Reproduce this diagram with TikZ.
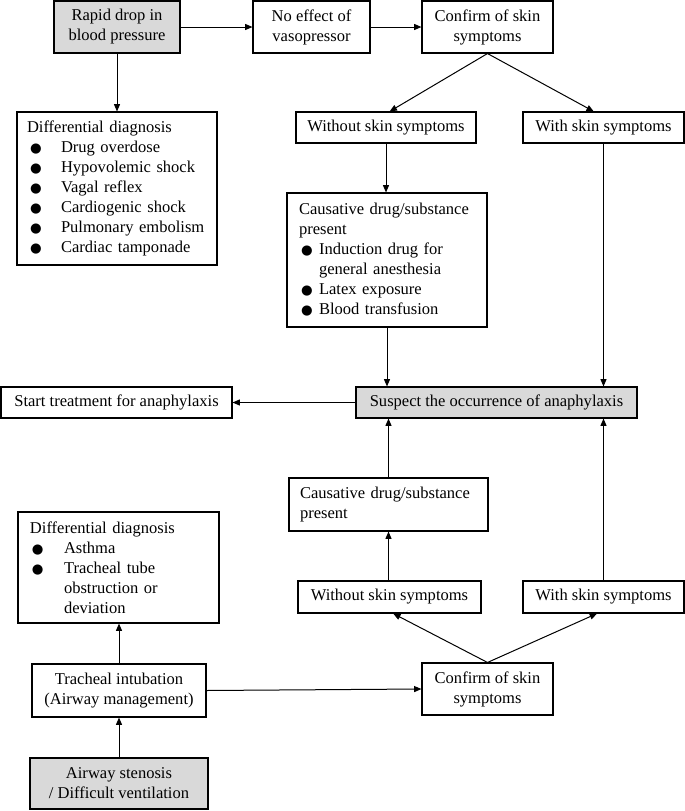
\documentclass[tikz,border=0pt]{standalone}
\usepackage{fontspec}
\setmainfont{Liberation Serif}
\newfontfamily\symfont{DejaVu Sans}
\usetikzlibrary{arrows.meta,calc}
\definecolor{boxgray}{HTML}{D9D9D9}
\newcommand{\bul}{{\symfont\fontsize{10}{15}\selectfont ●}}
\newcommand{\bitem}[3]{\makebox[#1][l]{\hspace{#2}\bul}#3}
\begin{document}
\begin{tikzpicture}[x=0.75pt,y=-0.75pt,
  font=\fontsize{12.4}{15}\selectfont,
  box/.style={draw, line width=0.8pt, inner sep=0pt, align=center},
  greybox/.style={box, fill=boxgray},
  lstbox/.style={box, align=left},
  arr/.style={line width=0.75pt, -{Triangle[length=5.5pt,width=4.5pt]}},
  ln/.style={line width=0.75pt}]
\useasboundingbox (0,0) rectangle (685,811);

% top row
\node[greybox, minimum width=94.5pt, minimum height=39pt] (rapid) at (117,27) {Rapid drop in\\blood pressure};
\node[box, minimum width=87.75pt, minimum height=39pt] (noeff) at (311.5,27) {No effect of\\vasopressor};
\node[box, minimum width=98.25pt, minimum height=39pt] (conf1) at (487.5,27) {Confirm of skin\\symptoms};

\node[lstbox, minimum width=150pt, minimum height=114.75pt, inner xsep=7.5pt, text width=135pt] (diff1) at (117,188.5)
 {Differential diagnosis\\
  \bitem{25.5pt}{2.25pt}{Drug overdose}\\
  \bitem{25.5pt}{2.25pt}{Hypovolemic shock}\\
  \bitem{25.5pt}{2.25pt}{Vagal reflex}\\
  \bitem{25.5pt}{2.25pt}{Cardiogenic shock}\\
  \bitem{25.5pt}{2.25pt}{Pulmonary embolism}\\
  \bitem{25.5pt}{2.25pt}{Cardiac tamponade}};

\node[box, minimum width=135pt, minimum height=23.25pt] (without1) at (386,127.5) {Without skin symptoms};
\node[box, minimum width=120.75pt, minimum height=23.25pt] (with1) at (603.5,127.5) {With skin symptoms};

\node[lstbox, minimum width=150pt, minimum height=100.5pt, inner xsep=9pt, text width=132pt] (caus1) at (387,260)
 {Causative drug/substance\\present\\
  \bitem{15pt}{1.5pt}{Induction drug for}\\
  \hspace*{15pt}general anesthesia\\
  \bitem{15pt}{1.5pt}{Latex exposure}\\
  \bitem{15pt}{1.5pt}{Blood transfusion}};

\node[greybox, minimum width=210.75pt, minimum height=23.25pt] (suspect) at (496.5,402.5) {Suspect the occurrence of anaphylaxis};
\node[box, minimum width=173.25pt, minimum height=23.25pt] (start) at (116.5,402.5) {Start treatment for anaphylaxis};

\node[lstbox, minimum width=149.25pt, minimum height=39.75pt, inner xsep=8.25pt, text width=132.75pt] (caus2) at (388.5,504.5)
 {Causative drug/substance\\present};

\node[lstbox, minimum width=150.75pt, minimum height=83.25pt, inner xsep=9pt, text width=132.75pt] (diff2) at (118.5,567.5)
 {Differential diagnosis\\
  \bitem{25.5pt}{1.5pt}{Asthma}\\
  \bitem{25.5pt}{1.5pt}{Tracheal tube}\\
  \hspace*{25.5pt}obstruction or\\
  \hspace*{25.5pt}deviation};

\node[box, minimum width=137.25pt, minimum height=24pt] (without2) at (389.5,597) {Without skin symptoms};
\node[box, minimum width=120.75pt, minimum height=24pt] (with2) at (603.5,597) {With skin symptoms};

\node[box, minimum width=98.25pt, minimum height=39pt] (conf2) at (487.5,689) {Confirm of skin\\symptoms};
\node[box, minimum width=130.5pt, minimum height=39.75pt] (trach) at (119,690.5) {Tracheal intubation\\(Airway management)};
\node[greybox, minimum width=133.5pt, minimum height=38.25pt] (airway) at (119,783.5) {Airway stenosis\\/ Difficult ventilation};

% connectors
\draw[arr] (rapid.east) -- (noeff.west);
\draw[arr] (noeff.east) -- (conf1.west);
\draw[arr] (rapid.south) -- (rapid.south |- diff1.north);
\draw[arr] (conf1.south) -- ($(without1.north west)!0.52!(without1.north east)$);
\draw[arr] (conf1.south) -- ($(with1.north west)!0.44!(with1.north east)$);
\draw[arr] (without1.south) -- (without1.south |- caus1.north);
\draw[arr] (caus1.south) -- (caus1.south |- suspect.north);
\draw[arr] (with1.south) -- (with1.south |- suspect.north);
\draw[arr] (suspect.west) -- (start.east);
\draw[arr] (caus2.north) -- (caus2.north |- suspect.south);
\draw[arr] (with2.north) -- (with2.north |- suspect.south);
\draw[arr] (caus2.south |- without2.north) -- (caus2.south);
\draw[arr] (conf2.north) -- ($(without2.south west)!0.52!(without2.south east)$);
\draw[arr] (conf2.north) -- ($(with2.south west)!0.46!(with2.south east)$);
\draw[arr] (trach.north) -- (trach.north |- diff2.south);
\draw[arr] (trach.east) -- (conf2.west);
\draw[arr] (airway.north) -- (airway.north |- trach.south);
\end{tikzpicture}
\end{document}
